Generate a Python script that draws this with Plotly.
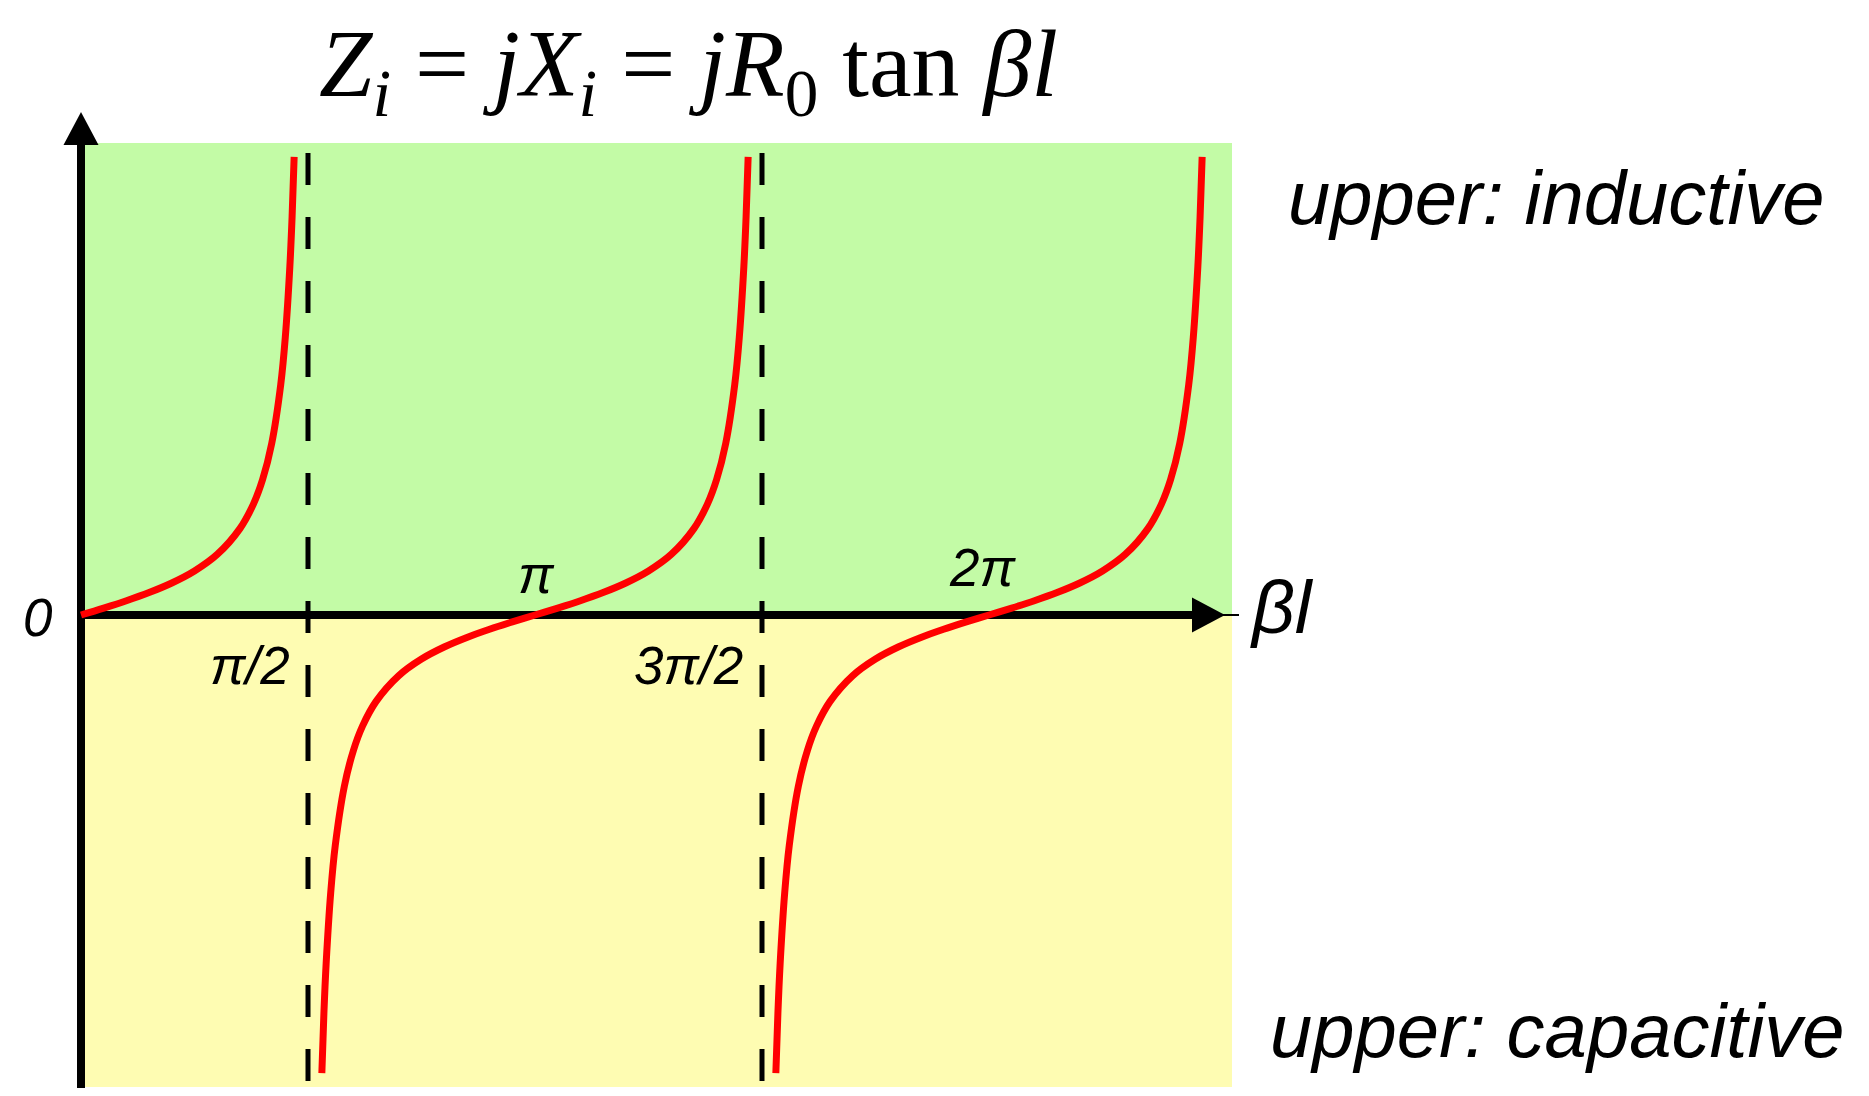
import plotly.graph_objects as go

# ---------------- data (x in units of pi) ----------------
# half-period shape of the curve: distance from a zero crossing (x/pi) and reactance value
offset_pi = [0.0, 0.05, 0.10, 0.15, 0.20, 0.25, 0.30, 0.35, 0.38, 0.40, 0.42,
             0.44, 0.45, 0.46, 0.465, 0.4695]
reactance = [0.0, 0.158, 0.325, 0.510, 0.727, 1.000, 1.376, 1.963, 2.526, 3.078,
             3.895, 5.242, 6.314, 7.916, 9.058, 10.41]
zero_crossings = [0.0, 1.0, 2.0]
asymptotes = [0.5, 1.5]
tick_values = [0.0, 0.5, 1.0, 1.5, 2.0]
tick_labels = ["0", "π/2", "π", "3π/2", "2π"]

# ---------------- layout constants ----------------
PAGE_OFF = 8                      # default body margin of the html page
W, H = 1869 - 2 * PAGE_OFF, 1096 - 2 * PAGE_OFF
X0_PX, Y0_PX = 81, 615            # page-pixel position of origin
PX_PER_PI, PX_PER_UNIT = 454, 44
x_range = [-(X0_PX - PAGE_OFF) / PX_PER_PI, (PAGE_OFF + W - X0_PX) / PX_PER_PI]
y_range = [-(PAGE_OFF + H - Y0_PX) / PX_PER_UNIT, (Y0_PX - PAGE_OFF) / PX_PER_UNIT]

def dx(px):
    return px / PX_PER_PI

def dy(px):
    return px / PX_PER_UNIT

REGION_RIGHT = dx(1232 - X0_PX)
REGION_HALF = dy(472)
GREEN = "#C3FBA6"
YELLOW = "#FEFCB2"
SANS_IT = dict(family="Liberation Sans", color="black", style="italic")

fig = go.Figure()

# background regions
fig.add_shape(type="rect", x0=0, x1=REGION_RIGHT, y0=0, y1=REGION_HALF,
              fillcolor=GREEN, line_width=0, layer="below")
fig.add_shape(type="rect", x0=0, x1=REGION_RIGHT, y0=-REGION_HALF, y1=0,
              fillcolor=YELLOW, line_width=0, layer="below")

# dashed asymptotes
for a in asymptotes:
    fig.add_trace(go.Scatter(x=[a, a], y=[dy(462), -dy(468)], mode="lines",
                             line=dict(color="black", width=5, dash="32px,32px"),
                             hoverinfo="skip", showlegend=False))

# axes lines
fig.add_trace(go.Scatter(x=[0, 0], y=[-dy(473), dy(472)], mode="lines",
                         line=dict(color="black", width=8), hoverinfo="skip", showlegend=False))
fig.add_trace(go.Scatter(x=[0, dx(1194 - X0_PX)], y=[0, 0], mode="lines",
                         line=dict(color="black", width=8), hoverinfo="skip", showlegend=False))
fig.add_trace(go.Scatter(x=[dx(1220 - X0_PX), dx(1239 - X0_PX)], y=[0, 0], mode="lines",
                         line=dict(color="black", width=2), hoverinfo="skip", showlegend=False))

# arrowheads
yb, yt, hw = dy(Y0_PX - 145), dy(Y0_PX - 112), dx(17.5)
fig.add_shape(type="path", path=f"M {-hw},{yb} L {hw},{yb} L 0,{yt} Z",
              fillcolor="black", line_width=0)
xb, xt, hh = dx(1192 - X0_PX), dx(1225 - X0_PX), dy(17.5)
fig.add_shape(type="path", path=f"M {xb},{-hh} L {xb},{hh} L {xt},0 Z",
              fillcolor="black", line_width=0)

# tan branches
for z in zero_crossings:
    xs, ys = [], []
    if z > 0:
        xs += [z - o for o in reversed(offset_pi)]
        ys += [-r for r in reversed(reactance)]
        xs += [z + o for o in offset_pi[1:]]
        ys += reactance[1:]
    else:
        xs += [z + o for o in offset_pi]
        ys += reactance
    fig.add_trace(go.Scatter(x=xs, y=ys, mode="lines",
                             line=dict(color="#FF0000", width=7, shape="spline"),
                             hoverinfo="skip", showlegend=False))

# tick labels (pixel offsets from tick position)
label_shift = [(-43, -2), (-58, -50), (1, 41), (-74, -50), (-7, 48)]
for v, t, (sx, sy) in zip(tick_values, tick_labels, label_shift):
    fig.add_annotation(x=v, y=0, text=t, showarrow=False,
                       xshift=sx, yshift=sy, font=dict(SANS_IT, size=53))

# axis label
fig.add_annotation(x=dx(1282 - X0_PX), y=0, text="βl", showarrow=False, yshift=8,
                   font=dict(SANS_IT, size=75))

# region labels
fig.add_annotation(x=dx(1556 - X0_PX), y=dy(Y0_PX - 197), text="upper: inductive",
                   showarrow=False, font=dict(SANS_IT, size=76))
fig.add_annotation(x=dx(1557 - X0_PX), y=dy(Y0_PX - 1030), text="upper: capacitive",
                   showarrow=False, font=dict(SANS_IT, size=76))

# title formula
fig.add_annotation(x=dx(688 - X0_PX), y=dy(Y0_PX - 70),
                   text="<i>Z</i><sub><i>i</i></sub> = <i>jX</i><sub><i>i</i></sub> = "
                        "<i>jR</i><sub>0</sub> tan <i>βl</i>",
                   showarrow=False, font=dict(family="Liberation Serif", size=96, color="black"))

fig.update_xaxes(range=x_range, visible=False, fixedrange=True)
fig.update_yaxes(range=y_range, visible=False, fixedrange=True)
fig.update_layout(width=W, height=H, margin=dict(l=0, r=0, t=0, b=0),
                  plot_bgcolor="white", paper_bgcolor="white", showlegend=False)

fig.write_html("out.html", config={"displayModeBar": False})
